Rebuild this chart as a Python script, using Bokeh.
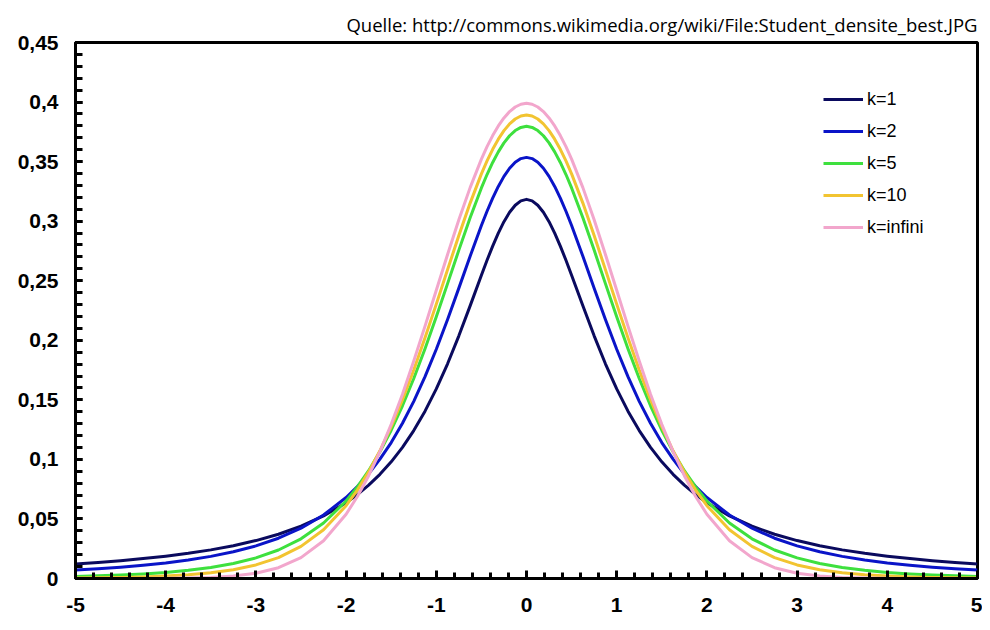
from bokeh.plotting import figure
from bokeh.models import Range1d, FixedTicker, CustomJSTickFormatter, Legend, LegendItem
from bokeh.embed import file_html
from bokeh.resources import INLINE

x = [-5, -4.75, -4.5, -4.25, -4, -3.75, -3.5, -3.25, -3, -2.75, -2.5, -2.25,
     -2, -1.875, -1.75, -1.625, -1.5, -1.375, -1.25, -1.125, -1, -0.875, -0.75, -0.625,
     -0.5, -0.4375, -0.375, -0.3125, -0.25, -0.1875, -0.125, -0.0625,
     0,
     0.0625, 0.125, 0.1875, 0.25, 0.3125, 0.375, 0.4375, 0.5,
     0.625, 0.75, 0.875, 1, 1.125, 1.25, 1.375, 1.5, 1.625, 1.75, 1.875, 2,
     2.25, 2.5, 2.75, 3, 3.25, 3.5, 3.75, 4, 4.25, 4.5, 4.75, 5]

k1 = [0.01224, 0.01351, 0.01498, 0.01670, 0.01872, 0.02113, 0.02402, 0.02753, 0.03183, 0.03717, 0.04390, 0.05250,
      0.06366, 0.07049, 0.07835, 0.08743, 0.09794, 0.11012, 0.12422, 0.14049, 0.15915, 0.18028, 0.20372, 0.22890,
      0.25465, 0.26717, 0.27907, 0.28999, 0.29959, 0.30750, 0.31341, 0.31707,
      0.31831,
      0.31707, 0.31341, 0.30750, 0.29959, 0.28999, 0.27907, 0.26717, 0.25465,
      0.22890, 0.20372, 0.18028, 0.15915, 0.14049, 0.12422, 0.11012, 0.09794, 0.08743, 0.07835, 0.07049, 0.06366,
      0.05250, 0.04390, 0.03717, 0.03183, 0.02753, 0.02402, 0.02113, 0.01872, 0.01670, 0.01498, 0.01351, 0.01224]
k2 = [0.00713, 0.00821, 0.00953, 0.01113, 0.01309, 0.01553, 0.01859, 0.02246, 0.02741, 0.03382, 0.04220, 0.05328,
      0.06804, 0.07720, 0.08779, 0.10029, 0.11413, 0.13031, 0.14872, 0.16945, 0.19245, 0.21743, 0.24378, 0.27054,
      0.29630, 0.30835, 0.31929, 0.32915, 0.33760, 0.34443, 0.34945, 0.35252,
      0.35355,
      0.35252, 0.34945, 0.34443, 0.33760, 0.32915, 0.31929, 0.30835, 0.29630,
      0.27054, 0.24378, 0.21743, 0.19245, 0.16945, 0.14872, 0.13031, 0.11413, 0.10029, 0.08779, 0.07720, 0.06804,
      0.05328, 0.04220, 0.03382, 0.02741, 0.02246, 0.01859, 0.01553, 0.01309, 0.01113, 0.00953, 0.00821, 0.00713]
k5 = [0.00176, 0.00227, 0.00295, 0.00387, 0.00512, 0.00685, 0.00924, 0.01259, 0.01729, 0.02393, 0.03333, 0.04657,
      0.06509, 0.07684, 0.09054, 0.10638, 0.12452, 0.14503, 0.16789, 0.19291, 0.21968, 0.24757, 0.27570, 0.30292,
      0.32792, 0.33915, 0.34930, 0.35820, 0.36572, 0.37171, 0.37607, 0.37872,
      0.37961,
      0.37872, 0.37607, 0.37171, 0.36572, 0.35820, 0.34930, 0.33915, 0.32792,
      0.30292, 0.27570, 0.24757, 0.21968, 0.19291, 0.16789, 0.14503, 0.12452, 0.10638, 0.09054, 0.07684, 0.06509,
      0.04657, 0.03333, 0.02393, 0.01729, 0.01259, 0.00924, 0.00685, 0.00512, 0.00387, 0.00295, 0.00227, 0.00176]
k10 = [0.00040, 0.00059, 0.00088, 0.00133, 0.00203, 0.00311, 0.00478, 0.00738, 0.01140, 0.01757, 0.02694, 0.04090,
       0.06114, 0.07421, 0.08953, 0.10724, 0.12745, 0.15012, 0.17510, 0.20203, 0.23037, 0.25933, 0.28798, 0.31517,
       0.33970, 0.35058, 0.36034, 0.36886, 0.37600, 0.38167, 0.38578, 0.38827,
       0.38911,
       0.38827, 0.38578, 0.38167, 0.37600, 0.36886, 0.36034, 0.35058, 0.33970,
       0.31517, 0.28798, 0.25933, 0.23037, 0.20203, 0.17510, 0.15012, 0.12745, 0.10724, 0.08953, 0.07421, 0.06114,
       0.04090, 0.02694, 0.01757, 0.01140, 0.00738, 0.00478, 0.00311, 0.00203, 0.00133, 0.00088, 0.00059, 0.00040]
kinf = [0.00000, 0.00001, 0.00002, 0.00005, 0.00013, 0.00035, 0.00087, 0.00203, 0.00443, 0.00909, 0.01753, 0.03174,
        0.05399, 0.06879, 0.08628, 0.10654, 0.12952, 0.15466, 0.18265, 0.21187, 0.24197, 0.27206, 0.30114, 0.32816,
        0.35207, 0.36253, 0.37185, 0.37993, 0.38667, 0.39199, 0.39584, 0.39816,
        0.39894,
        0.39816, 0.39584, 0.39199, 0.38667, 0.37993, 0.37185, 0.36253, 0.35207,
        0.32816, 0.30114, 0.27206, 0.24197, 0.21187, 0.18265, 0.15466, 0.12952, 0.10654, 0.08628, 0.06879, 0.05399,
        0.03174, 0.01753, 0.00909, 0.00443, 0.00203, 0.00087, 0.00035, 0.00013, 0.00005, 0.00002, 0.00001, 0.00000]

series_labels = ["k=1", "k=2", "k=5", "k=10", "k=infini"]
series_values = [k1, k2, k5, k10, kinf]
series_colors = ["#0a0a5e", "#0a14c8", "#3ee03e", "#f2c431", "#f2a6cc"]

x_ticks = [-5, -4, -3, -2, -1, 0, 1, 2, 3, 4, 5]
x_minor = [round(-5 + 0.2 * i, 2) for i in range(51)]
y_ticks = [0, 0.05, 0.1, 0.15, 0.2, 0.25, 0.3, 0.35, 0.4, 0.45]
y_minor = [round(0.01 * i, 2) for i in range(46)]
source_text = "Quelle: http://commons.wikimedia.org/wiki/File:Student_densite_best.JPG"

p = figure(width=982, height=622, output_backend="svg", toolbar_location=None,
           x_range=Range1d(-5, 5), y_range=Range1d(0, 0.45),
           min_border_left=75, min_border_right=5, min_border_top=42, min_border_bottom=44,
           title=source_text)
p.title.align = "right"
p.title.text_font = "Open Sans"
p.title.text_font_style = "normal"
p.title.text_font_size = "18.5px"
p.title.text_color = "black"
p.title.standoff = 11

p.background_fill_color = "white"
p.border_fill_color = "white"
p.outline_line_color = "black"
p.outline_line_width = 3
p.xgrid.visible = False
p.ygrid.visible = False

renderers = []
for lab, vals, col in zip(series_labels, series_values, series_colors):
    r = p.line(x, vals, line_color=col, line_width=3, line_join="round")
    renderers.append((lab, r))

for ax in (p.xaxis[0], p.yaxis[0]):
    ax.axis_line_width = 3
    ax.axis_line_color = "black"
    ax.major_tick_line_width = 3
    ax.minor_tick_line_width = 3
    ax.major_tick_out = 0
    ax.minor_tick_out = 0
    ax.major_label_text_font = "Liberation Sans"
    ax.major_label_text_font_style = "bold"
    ax.major_label_text_font_size = "21px"
    ax.major_label_text_color = "black"

p.xaxis[0].ticker = FixedTicker(ticks=x_ticks, minor_ticks=x_minor)
p.xaxis[0].major_tick_in = 8
p.xaxis[0].minor_tick_in = 6
p.xaxis[0].major_label_standoff = 19
p.xaxis[0].formatter = CustomJSTickFormatter(code="return String(tick);")

p.yaxis[0].ticker = FixedTicker(ticks=y_ticks, minor_ticks=y_minor)
p.yaxis[0].major_tick_in = 7
p.yaxis[0].minor_tick_in = 7
p.yaxis[0].major_label_standoff = 17
p.yaxis[0].formatter = CustomJSTickFormatter(code="""
    var s = tick.toFixed(2);
    s = s.replace(/0+$/, '').replace(/\\.$/, '');
    return s.replace('.', ',');
""")

legend = Legend(items=[LegendItem(label=lab, renderers=[r]) for lab, r in renderers],
                location=(748, 335), orientation="vertical",
                background_fill_alpha=0, border_line_alpha=0,
                label_text_font="Liberation Sans", label_text_font_size="18px",
                label_text_color="black", glyph_width=40, glyph_height=32,
                label_height=32, label_standoff=4, padding=0, margin=0, spacing=0)
p.add_layout(legend, "center")

open("out.html", "w").write(file_html(p, INLINE))
